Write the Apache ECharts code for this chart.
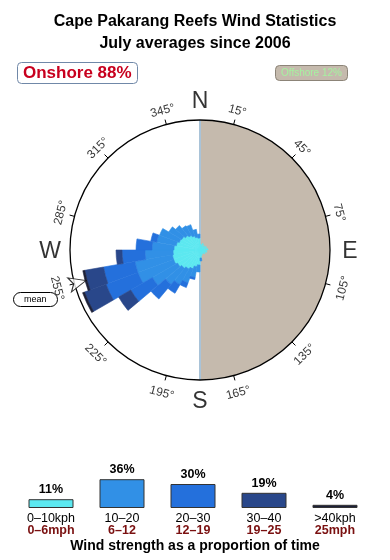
<!DOCTYPE html>
<html><head><meta charset="utf-8">
<script src="https://cdn.jsdelivr.net/npm/echarts@6/dist/echarts.min.js"></script>
<style>html,body{margin:0;padding:0;background:#fff}#c{width:390px;height:560px}</style>
</head><body><div id="c"></div>
<script>
// ---- data ----
const directions = ['0','10','20','30','40','50','60','70','80','90','100','110','120','130','140','150','160','170',
  '180','190','200','210','220','230','240','250','260','270','280','290','300','310','320','330','340','350'];
const speed0to10  = [0.6,0.5,0.7,0.4,0.6,0.5,0.7,0.5,0.8,0.6,0.7,0.5,0.6,0.4,0.5,0.4,0.6,0.8,
  1.5,1.7,2.0,2.2,2.4,2.6,2.8,2.8,2.7,2.6,2.4,2.2,2.1,1.9,1.7,1.5,1.3,1.2];
const speed10to20 = [0,0,0,0,0,0,0,0,0,0,0,0,0,0,0,0,0,0.3,
  0.7,1.1,1.5,1.8,2.1,2.9,3.8,3.8,2.8,2.2,2.0,2.1,1.5,1.3,1.1,1.2,0.8,0.4];
const speed20to30 = [0,0,0,0,0,0,0,0,0,0,0,0,0,0,0,0,0,0,
  0,0.2,0.5,1.0,1.9,2.5,3.4,3.2,2.3,1.6,0.6,0,0,0,0,0,0,0];
const speed30to40 = [0,0,0,0,0,0,0,0,0,0,0,0,0,0,0,0,0,0,
  0,0,0,0,0,1.4,2.3,1.9,0.6,0,0,0,0,0,0,0,0,0];
const speedOver40 = [0,0,0,0,0,0,0,0,0,0,0,0,0,0,0,0,0,0,
  0,0,0,0,0,0,0.2,0.2,0,0,0,0,0,0,0,0,0,0];
const offshoreSector = [1, 0];            // offshore (0-180), onshore (180-360)
const sectorNames = ['Offshore','Onshore'];
const onshorePct = 88, offshorePct = 12;
const meanDirection = 255;
const tickAngles = [15,45,75,105,135,165,195,225,255,285,315,345];
const tickLabels = ['15°','45°','75°','105°','135°','165°','195°','225°','255°','285°','315°','345°'];
const compassAngles = [0,90,180,270];
const compassLabels = ['N','E','S','W'];
const legendKph = ['0–10kph','10–20','20–30','30–40','>40kph'];
const legendMph = ['0–6mph','6–12','12–19','19–25','25mph'];
const legendPct = [11,36,30,19,4];

// ---- styles ----
const FONT = 'Liberation Sans, Arial, Helvetica, sans-serif';
const speedColors = ['#5ce8f0','#3190e6','#2470dc','#29478a','#1c2038'];
const CX = 200, CY = 250, R = 130;
const hideAxis = {axisLine:{show:false}, axisTick:{show:false}, axisLabel:{show:false}, splitLine:{show:false}, splitArea:{show:false}};

function tangentRot(a){
  if (a <= 90 || a >= 270) return -(a > 180 ? a - 360 : a);
  return 180 - a;
}

const chart = echarts.init(document.getElementById('c'), null, {renderer:'canvas'});
const speedSeries = [speed0to10, speed10to20, speed20to30, speed30to40, speedOver40].map((arr, i) => ({
  type:'bar', coordinateSystem:'polar', polarIndex:1, stack:'wind',
  data:arr.map(v => v > 0 ? v : {value:v, itemStyle:{borderWidth:0, opacity:0}}),
  barCategoryGap:'0%', itemStyle:{color:speedColors[i], borderColor:speedColors[i], borderWidth:0.6}, z:3, silent:true
}));

const option = {
  animation:false,
  backgroundColor:'#fff',
  title:[
    {text:'Cape Pakarang Reefs Wind Statistics\nJuly averages since 2006', left:'center', top:6,
     textStyle:{fontFamily:FONT, fontWeight:'bold', fontSize:16, lineHeight:22, color:'#000'}},
    {text:'Onshore ' + onshorePct + '%', left:17, top:62, padding:[1,6], borderColor:'#7088a8', borderWidth:1, borderRadius:4,
     backgroundColor:'#fff', textStyle:{fontFamily:FONT, color:'#c8001e', fontSize:17, fontWeight:'bold', lineHeight:20}},
    {text:'Offshore ' + offshorePct + '%', left:275, top:65, padding:[2,6], borderColor:'#8c8478', borderWidth:1, borderRadius:4,
     backgroundColor:'#c5baad', textStyle:{fontFamily:FONT, color:'#a6f2a0', fontSize:10, fontWeight:'normal', lineHeight:12}},
    {text:'mean', left:13, top:292, padding:[2,11], borderColor:'#000', borderWidth:1, borderRadius:7,
     backgroundColor:'#fff', textStyle:{fontFamily:FONT, color:'#000', fontSize:9, fontWeight:'normal', lineHeight:11}},
    {text:'Wind strength as a proportion of time', left:'center', top:534,
     textStyle:{fontFamily:FONT, fontWeight:'bold', fontSize:14, color:'#000'}}
  ],
  polar:[
    {center:[CX,CY], radius:R},
    {center:[CX,CY], radius:R},
    {center:[CX,CY], radius:R},
    {center:[CX,CY], radius:170}
  ],
  angleAxis:[
    Object.assign({polarIndex:0, type:'category', data:sectorNames, startAngle:90, clockwise:true, z:2}, hideAxis,
      {splitLine:{show:true, lineStyle:{color:'#a9c3d8', width:2}}}),
    Object.assign({polarIndex:1, type:'category', data:directions, startAngle:90, clockwise:true}, hideAxis),
    Object.assign({polarIndex:2, type:'value', min:0, max:360, interval:30, startAngle:75, clockwise:true, z:4}, hideAxis,
      {axisLine:{show:true, lineStyle:{color:'#000', width:1.3}},
       axisTick:{show:true, inside:false, length:5, lineStyle:{color:'#000', width:1}}}),
    Object.assign({polarIndex:3, type:'value', min:0, max:360, startAngle:90, clockwise:true}, hideAxis)
  ],
  radiusAxis:[
    Object.assign({polarIndex:0, type:'value', min:0, max:1}, hideAxis),
    Object.assign({polarIndex:1, type:'value', min:0, max:13}, hideAxis),
    Object.assign({polarIndex:2, type:'value', min:0, max:1}, hideAxis),
    Object.assign({polarIndex:3, type:'value', min:0, max:170}, hideAxis)
  ],
  grid:{left:15.5, right:19.5, top:476, bottom:52, containLabel:false},
  xAxis:{type:'category', data:legendKph, axisLine:{show:false}, axisTick:{show:false}, splitLine:{show:false},
    axisLabel:{interval:0, margin:5, fontFamily:FONT,
      formatter:(v,i)=>'{k|'+v+'}\n{m|'+legendMph[i]+'}',
      rich:{k:{fontFamily:FONT, fontSize:12.5, color:'#000', lineHeight:11.5},
            m:{fontFamily:FONT, fontSize:12.5, color:'#7a1010', fontWeight:'bold', lineHeight:11.5}}}},
  yAxis:{type:'value', min:0, max:40, show:false},
  series:[
    {type:'bar', coordinateSystem:'polar', polarIndex:0, data:offshoreSector, barCategoryGap:'0%',
     itemStyle:{color:'#c5baad'}, z:1, silent:true},
    ...speedSeries,
    {type:'scatter', coordinateSystem:'polar', polarIndex:3, z:6, silent:true, clip:false,
     symbol:'arrow', symbolSize:[11,17], symbolRotate:180 - meanDirection,
     itemStyle:{color:'#fff', borderColor:'#000', borderWidth:1},
     data:[[118, meanDirection]]},
    {type:'scatter', coordinateSystem:'polar', polarIndex:3, z:5, silent:true, clip:false,
     symbolSize:1, itemStyle:{color:'rgba(0,0,0,0)'},
     label:{show:true, position:'inside', offset:[0,2], fontFamily:FONT, fontSize:12, color:'#000'},
     data:tickAngles.map((a,i)=>({value:[146, a], label:{formatter:tickLabels[i], rotate:tangentRot(a)}}))},
    {type:'scatter', coordinateSystem:'polar', polarIndex:3, z:5, silent:true, clip:false,
     symbolSize:1, itemStyle:{color:'rgba(0,0,0,0)'},
     label:{show:true, position:'inside', offset:[0,2], fontFamily:FONT, fontSize:23, color:'#000'},
     data:compassAngles.map((a,i)=>({value:[150, a], label:{formatter:compassLabels[i]}}))},
    {type:'bar', data:legendPct.map((v,i)=>({value:v, itemStyle:{color:speedColors[i]}})),
     barWidth:45, itemStyle:{borderColor:'#333', borderWidth:1},
     label:{show:true, position:'top', distance:3, formatter:'{c}%', fontFamily:FONT, fontSize:12.5, fontWeight:'bold', color:'#000'}}
  ]
};
chart.setOption(option);
</script></body></html>
